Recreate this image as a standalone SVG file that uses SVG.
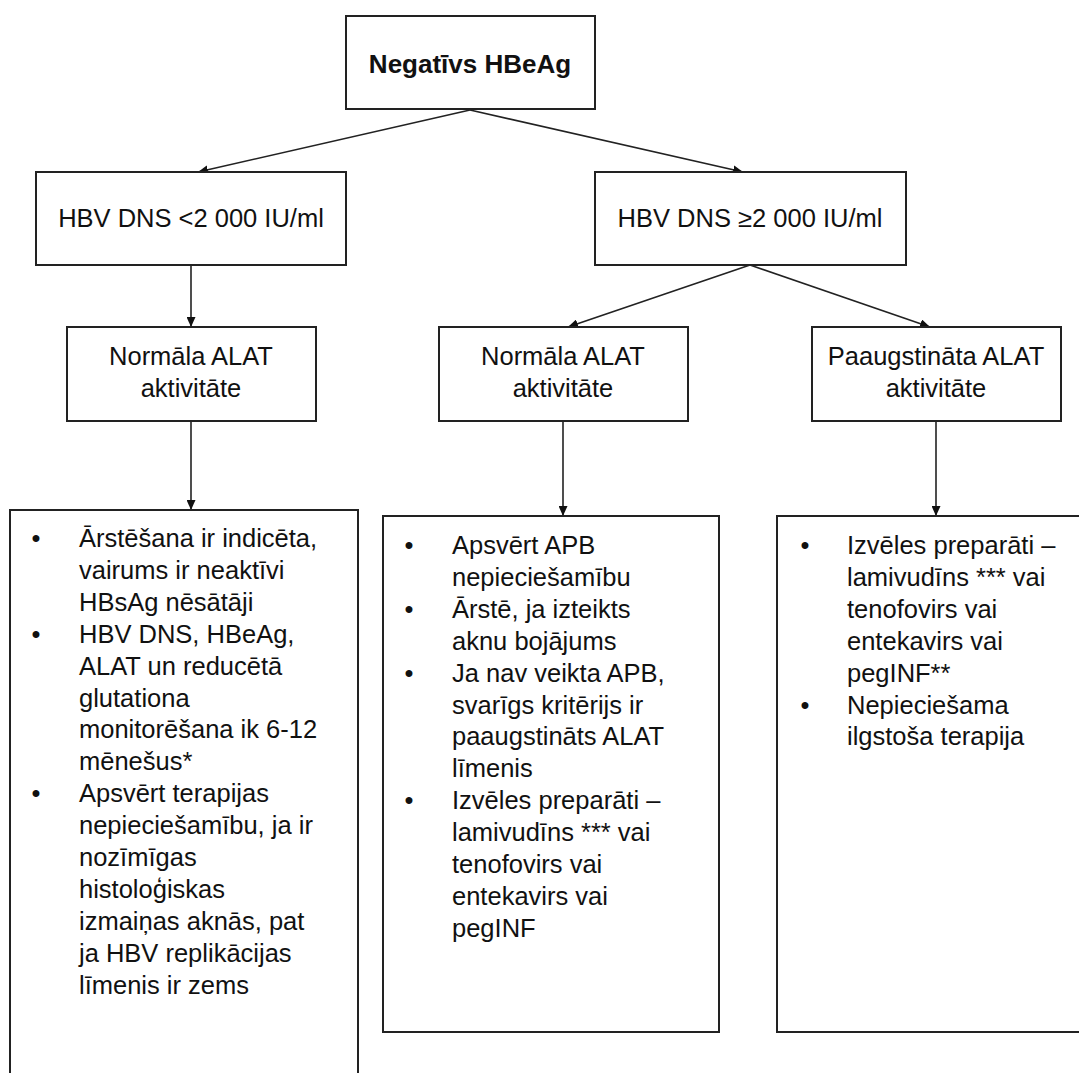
<svg xmlns="http://www.w3.org/2000/svg" width="1079" height="1073" viewBox="0 0 1079 1073">
  <defs>
    <marker id="arrow" markerUnits="userSpaceOnUse" markerWidth="11" markerHeight="9" refX="10" refY="4.5" orient="auto">
      <path d="M0,0 L10,4.5 L0,9 Z" fill="#111"/>
    </marker>
    <style>
      .box { fill: #fff; stroke: #222; stroke-width: 2; }
      .edge { fill: none; stroke: #222; stroke-width: 1.6; marker-end: url(#arrow); }
      .lbl { font-family: "Liberation Sans", Arial, Helvetica, sans-serif; font-size: 25.5px; fill: #111; }
      .title { font-family: "Liberation Sans", Arial, Helvetica, sans-serif; font-size: 26px; font-weight: bold; fill: #111; }
      .mid { text-anchor: middle; }
      .dot { text-anchor: middle; }
    </style>
  </defs>
  <rect width="1079" height="1073" fill="#fff"/>

  <!-- connectors -->
  <g id="connectors">
    <line class="edge" x1="470" y1="110" x2="198" y2="172"/>
    <line class="edge" x1="470" y1="110" x2="743" y2="172"/>
    <line class="edge" x1="191" y1="265" x2="191" y2="327"/>
    <line class="edge" x1="750" y1="265" x2="568" y2="327"/>
    <line class="edge" x1="750" y1="265" x2="930" y2="327"/>
    <line class="edge" x1="191" y1="421" x2="191" y2="510"/>
    <line class="edge" x1="563" y1="421" x2="563" y2="516"/>
    <line class="edge" x1="936" y1="421" x2="936" y2="516"/>
  </g>

  <!-- root -->
  <g id="node-root">
    <rect class="box" x="346" y="16" width="249" height="93"/>
    <text class="title mid" x="470" y="73">Negatīvs HBeAg</text>
  </g>

  <!-- HBV DNS level -->
  <g id="node-dns-low">
    <rect class="box" x="36" y="172" width="310" height="93"/>
    <text class="lbl mid" x="191" y="227">HBV DNS &lt;2 000 IU/ml</text>
  </g>
  <g id="node-dns-high">
    <rect class="box" x="595" y="172" width="311" height="93"/>
    <text class="lbl mid" x="750" y="227">HBV DNS ≥2 000 IU/ml</text>
  </g>

  <!-- ALAT activity -->
  <g id="node-alat-normal-a">
    <rect class="box" x="67" y="327" width="249" height="94"/>
    <text class="lbl mid" x="191" y="365">Normāla ALAT<tspan x="191" dy="32">aktivitāte</tspan></text>
  </g>
  <g id="node-alat-normal-b">
    <rect class="box" x="439" y="327" width="249" height="94"/>
    <text class="lbl mid" x="563" y="365">Normāla ALAT<tspan x="563" dy="32">aktivitāte</tspan></text>
  </g>
  <g id="node-alat-high">
    <rect class="box" x="812" y="327" width="249" height="94"/>
    <text class="lbl mid" x="936" y="365">Paaugstināta ALAT<tspan x="936" dy="32">aktivitāte</tspan></text>
  </g>

  <!-- recommendations -->
  <g id="node-rec-low">
    <rect class="box" x="10" y="510" width="348" height="600"/>
    <text class="lbl" x="79" y="547">Ārstēšana ir indicēta,<tspan x="79" dy="31.9">vairums ir neaktīvi</tspan><tspan x="79" dy="31.9">HBsAg nēsātāji</tspan><tspan x="79" dy="31.9">HBV DNS, HBeAg,</tspan><tspan x="79" dy="31.9">ALAT un reducētā</tspan><tspan x="79" dy="31.9">glutationa</tspan><tspan x="79" dy="31.9">monitorēšana ik 6-12</tspan><tspan x="79" dy="31.9">mēnešus*</tspan><tspan x="79" dy="31.9">Apsvērt terapijas</tspan><tspan x="79" dy="31.9">nepieciešamību, ja ir</tspan><tspan x="79" dy="31.9">nozīmīgas</tspan><tspan x="79" dy="31.9">histoloģiskas</tspan><tspan x="79" dy="31.9">izmaiņas aknās, pat</tspan><tspan x="79" dy="31.9">ja HBV replikācijas</tspan><tspan x="79" dy="31.9">līmenis ir zems</tspan></text>
    <text class="lbl dot" x="36" y="547">•</text>
    <text class="lbl dot" x="36" y="642.7">•</text>
    <text class="lbl dot" x="36" y="802.2">•</text>
  </g>
  <g id="node-rec-normal">
    <rect class="box" x="383" y="516" width="336" height="516"/>
    <text class="lbl" x="452" y="554">Apsvērt APB<tspan x="452" dy="31.9">nepieciešamību</tspan><tspan x="452" dy="31.9">Ārstē, ja izteikts</tspan><tspan x="452" dy="31.9">aknu bojājums</tspan><tspan x="452" dy="31.9">Ja nav veikta APB,</tspan><tspan x="452" dy="31.9">svarīgs kritērijs ir</tspan><tspan x="452" dy="31.9">paaugstināts ALAT</tspan><tspan x="452" dy="31.9">līmenis</tspan><tspan x="452" dy="31.9">Izvēles preparāti –</tspan><tspan x="452" dy="31.9">lamivudīns *** vai</tspan><tspan x="452" dy="31.9">tenofovirs vai</tspan><tspan x="452" dy="31.9">entekavirs vai</tspan><tspan x="452" dy="31.9">pegINF</tspan></text>
    <text class="lbl dot" x="409" y="554">•</text>
    <text class="lbl dot" x="409" y="617.8">•</text>
    <text class="lbl dot" x="409" y="681.6">•</text>
    <text class="lbl dot" x="409" y="809.2">•</text>
  </g>
  <g id="node-rec-high">
    <rect class="box" x="777" y="516" width="320" height="516"/>
    <text class="lbl" x="847" y="554">Izvēles preparāti –<tspan x="847" dy="31.9">lamivudīns *** vai</tspan><tspan x="847" dy="31.9">tenofovirs vai</tspan><tspan x="847" dy="31.9">entekavirs vai</tspan><tspan x="847" dy="31.9">pegINF**</tspan><tspan x="847" dy="31.9">Nepieciešama</tspan><tspan x="847" dy="31.9">ilgstoša terapija</tspan></text>
    <text class="lbl dot" x="805" y="554">•</text>
    <text class="lbl dot" x="805" y="713.5">•</text>
  </g>
</svg>
